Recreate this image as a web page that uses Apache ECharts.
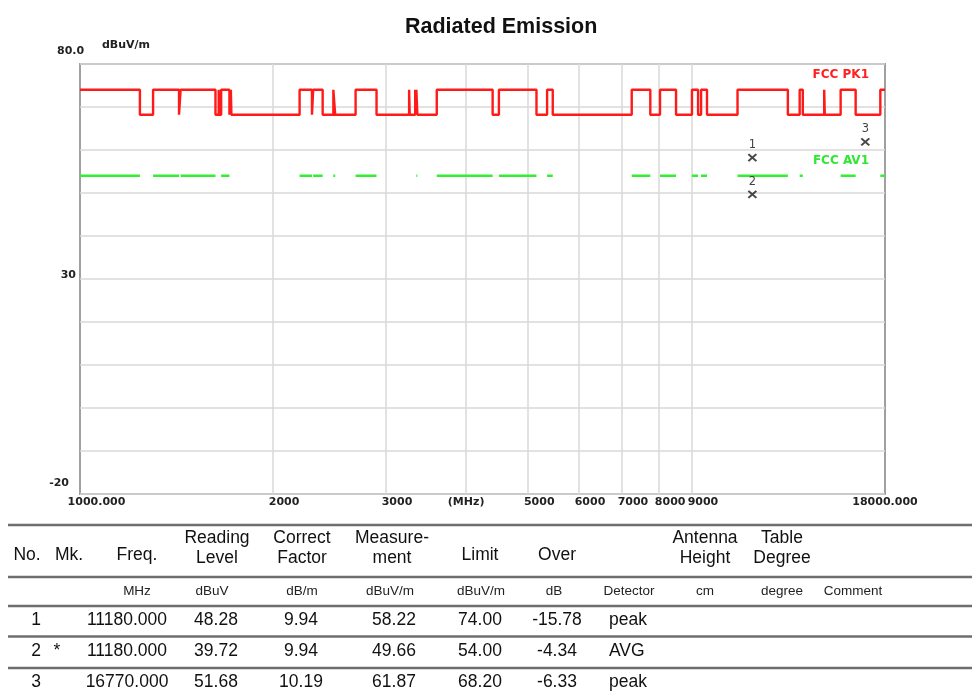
<!DOCTYPE html>
<html><head><meta charset="utf-8">
<script src="https://cdn.jsdelivr.net/npm/echarts@6/dist/echarts.min.js"></script>
<style>html,body{margin:0;padding:0;background:#fff}#c{width:972px;height:697px}</style>
</head><body><div id="c"></div>
<script>
// ---------- data ----------
const restrictedBands = [
  [960,1240],[1300,1427],[1435,1626.5],[1645.5,1646.5],[1660,1710],[1718.8,1722.2],
  [2200,2300],[2310,2390],[2483.5,2500],[2690,2900],[3260,3267],[3332,3339],[3345.8,3358],
  [3600,4400],[4500,5150],[5350,5460],[7250,7750],[8025,8500],[9000,9200],[9300,9500],
  [10600,12700],[13250,13400],[14470,14500],[15350,16200],[17700,21400]
];
const peakLimitInBand = 74.0;
const peakLimitOutBand = 68.2;
const avgLimitInBand = 54.0;
const freqMin = 1000, freqMax = 18000;
const levelMin = -20, levelMax = 80, levelStep = 10;
const xTickValues = [1000,2000,3000,4000,5000,6000,7000,8000,9000,18000];
const xTickLabels = ['1000.000','2000','3000','(MHz)','5000','6000','7000','8000','9000','18000.000'];
const xGridValues = [2000,3000,4000,5000,6000,7000,8000,9000];
const yTickValues = [-20,30,80];
const yTickLabels = ['-20','30','80.0'];
const markerNo = ['1','2','3'];
const markerFreq = [11180,11180,16770];
const markerLevel = [58.22,49.66,61.87];

const tableNo = ['1','2','3'];
const tableMk = ['','*',''];
const tableFreq = ['11180.000','11180.000','16770.000'];
const tableReading = ['48.28','39.72','51.68'];
const tableFactor = ['9.94','9.94','10.19'];
const tableMeasure = ['58.22','49.66','61.87'];
const tableLimit = ['74.00','54.00','68.20'];
const tableOver = ['-15.78','-4.34','-6.33'];
const tableDetector = ['peak','AVG','peak'];

// ---------- build series from data ----------
const peakData = [];
const avgData = [];
restrictedBands.forEach(b => {
  const s = Math.max(b[0], freqMin), e = Math.min(b[1], freqMax);
  if (e <= s) return;
  if (s > freqMin) { peakData.push([s, peakLimitOutBand]); }
  peakData.push([s, peakLimitInBand]);
  peakData.push([e, peakLimitInBand]);
  if (e < freqMax) peakData.push([e, peakLimitOutBand]);
  avgData.push([s, avgLimitInBand]);
  avgData.push([e, avgLimitInBand]);
  avgData.push([e, '-']);
});
const markerData = markerFreq.map((f, i) => ({ value: [f, markerLevel[i]], name: markerNo[i] }));

// ---------- table layout ----------
const FONT = 'Liberation Sans, Arial, sans-serif';
const cols = [
  { head: ['No.'], hx: 27, unit: '', vals: tableNo, vx: 36, va: 'center' },
  { head: ['Mk.'], hx: 69, unit: '', vals: tableMk, vx: 57, va: 'center' },
  { head: ['Freq.'], hx: 137, unit: 'MHz', ux: 137, vals: tableFreq, vx: 127, va: 'center' },
  { head: ['Reading', 'Level'], hx: 217, unit: 'dBuV', ux: 212, vals: tableReading, vx: 216, va: 'center' },
  { head: ['Correct', 'Factor'], hx: 302, unit: 'dB/m', ux: 302, vals: tableFactor, vx: 301, va: 'center' },
  { head: ['Measure-', 'ment'], hx: 392, unit: 'dBuV/m', ux: 390, vals: tableMeasure, vx: 394, va: 'center' },
  { head: ['Limit'], hx: 480, unit: 'dBuV/m', ux: 481, vals: tableLimit, vx: 480, va: 'center' },
  { head: ['Over'], hx: 557, unit: 'dB', ux: 554, vals: tableOver, vx: 557, va: 'center' },
  { head: [], hx: 629, unit: 'Detector', ux: 629, vals: tableDetector, vx: 609, va: 'left' },
  { head: ['Antenna', 'Height'], hx: 705, unit: 'cm', ux: 705, vals: null },
  { head: ['Table', 'Degree'], hx: 782, unit: 'degree', ux: 782, vals: null },
  { head: [], hx: 853, unit: 'Comment', ux: 853, vals: null }
];
const rowY = [620, 651.5, 682];
const graphics = [];
function txt(t, x, y, size, align, color) {
  graphics.push({ type: 'text', x: x, y: y, silent: true,
    style: { text: t, font: size + 'px ' + FONT, fill: color || '#111', align: align || 'center', verticalAlign: 'middle' } });
}
[525, 577, 606, 636.5, 668].forEach(y => {
  graphics.push({ type: 'line', silent: true, shape: { x1: 8, y1: y, x2: 972, y2: y },
    style: { stroke: '#6e6e6e', lineWidth: 2.6 } });
});
cols.forEach(c => {
  if (c.head.length === 1) txt(c.head[0], c.hx, 555, 17.5);
  else if (c.head.length === 2) { txt(c.head[0], c.hx, 538, 17.5); txt(c.head[1], c.hx, 558, 17.5); }
  if (c.unit) txt(c.unit, c.ux, 591, 13.5, 'center', '#222');
  if (c.vals) c.vals.forEach((v, i) => { if (v) txt(v, c.vx, rowY[i], 17.5, c.va); });
});
// limit line names
graphics.push({ type: 'text', x: 869, y: 75, silent: true,
  style: { text: 'FCC PK1', font: 'bold 12px DejaVu Sans', fill: '#ff2020', align: 'right', verticalAlign: 'middle' } });
graphics.push({ type: 'text', x: 869, y: 161, silent: true,
  style: { text: 'FCC AV1', font: 'bold 12px DejaVu Sans', fill: '#2fe82f', align: 'right', verticalAlign: 'middle' } });

const axisFont = { fontFamily: 'DejaVu Sans', fontWeight: 'bold', fontSize: 11, color: '#222' };

const chart = echarts.init(document.getElementById('c'), null, { renderer: 'canvas' });
chart.setOption({
  animation: false,
  backgroundColor: '#fff',
  title: { text: 'Radiated Emission', left: 400, top: 11,
    textStyle: { fontFamily: FONT, fontWeight: 'bold', fontSize: 21.5, color: '#111' } },
  grid: { left: 80, right: 87, top: 64, bottom: 203, show: true, borderColor: '#a0a0a0', borderWidth: 2, containLabel: false },
  xAxis: {
    type: 'log', logBase: 10, min: freqMin, max: freqMax,
    axisLine: { show: false }, axisTick: { show: false, customValues: xGridValues },
    splitLine: { show: true, lineStyle: { color: '#d9d9d9', width: 1.5 } },
    axisLabel: Object.assign({}, axisFont, {
      customValues: xTickValues, margin: 3, align: 'center', showMinLabel: true, showMaxLabel: true,
      formatter: v => {
        let i = 0, best = Infinity;
        xTickValues.forEach((t, k) => { const d = Math.abs(t - v); if (d < best) { best = d; i = k; } });
        const st = i === 0 ? 'a' : (i === 3 || i === 9) ? 'c' : 'n';
        return '{' + st + '|' + xTickLabels[i] + '}';
      },
      rich: { a: { padding: [0, 0, 0, 33] }, n: { padding: [0, 0, 0, 22] }, c: {} }
    })
  },
  yAxis: {
    type: 'value', min: levelMin, max: levelMax, interval: levelStep,
    name: 'dBuV/m', nameLocation: 'end', nameGap: 13,
    nameTextStyle: Object.assign({}, axisFont, { align: 'left', padding: [0, 0, 0, 22] }),
    axisLine: { show: false }, axisTick: { show: false },
    splitLine: { show: true, lineStyle: { color: '#d9d9d9', width: 1.5 } },
    axisLabel: Object.assign({}, axisFont, {
      customValues: yTickValues, margin: 4,
      formatter: v => { const i = yTickValues.indexOf(v); return '{y' + i + '|' + yTickLabels[i] + '}'; },
      rich: {
        y0: { padding: [0, 7, 22, 0] },
        y1: { padding: [0, 0, 8, 0] },
        y2: { width: 19, align: 'left', padding: [0, 0, 26, 0] }
      }
    })
  },
  series: [
    { type: 'line', name: 'FCC PK1', data: peakData, symbol: 'none', lineStyle: { color: '#ff1a1a', width: 2.4 }, z: 3 },
    { type: 'line', name: 'FCC AV1', data: avgData, symbol: 'none', connectNulls: false, lineStyle: { color: '#33ee33', width: 2.5 }, z: 3 },
    { type: 'scatter', name: 'Markers', data: markerData, symbol: 'path://M0 0L10 10M10 0L0 10', symbolSize: [8, 7],
      itemStyle: { color: 'none', borderColor: '#1a1a1a', borderWidth: 2 },
      label: { show: true, position: 'top', distance: 1, formatter: p => p.name,
        fontFamily: 'DejaVu Sans', fontSize: 11.5, color: '#111' }, z: 5 }
  ],
  graphic: graphics
});
</script></body></html>
